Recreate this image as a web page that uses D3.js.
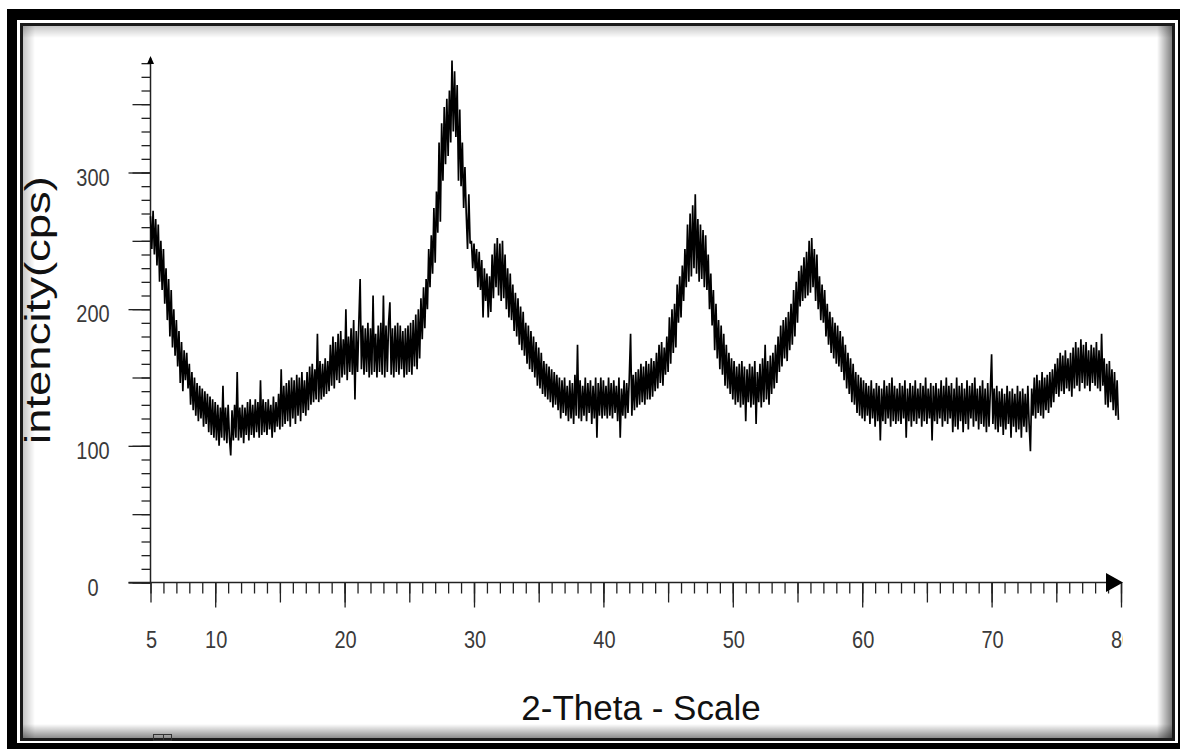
<!DOCTYPE html>
<html>
<head>
<meta charset="utf-8">
<script src="https://cdn.jsdelivr.net/npm/d3@7"></script>
<style>
  body { margin: 0; background: #fff; }
  svg { display: block; }
  .lbl { font-family: "Liberation Sans", Arial, sans-serif; fill: #3a3a3a; }
  .ttl { font-family: "Liberation Sans", Arial, sans-serif; fill: #111; }
</style>
</head>
<body>
<div id="chart"></div>
<script>
// scan settings (2-theta, degrees)
var thetaStart = 5, thetaStep = 0.1;

// intensity (cps), one value per step
var counts = [
  268,244,272,240,266, 232,262,220,250,214, 244,204,230,192,222, 180,214,172,200,166,
  192,158,184,146,176, 140,170,148,168,142, 160,130,154,126,150, 122,146,118,144,120,
  142,114,140,116,138, 110,136,108,134,106, 132,104,130,100,128, 106,144,104,128,102,
  130,106,93,126,104, 130,106,154,104,128, 106,130,102,128,108, 132,104,134,108,130,
  106,134,110,132,106, 148,108,134,110,132, 108,134,112,130,106, 136,110,132,114,138,
  112,156,114,144,116, 146,118,148,114,150, 120,148,116,152,122, 150,118,154,124,148,
  122,154,126,158,130, 160,132,156,134,182, 132,162,134,160,136, 164,138,162,140,174,
  144,180,142,176,148, 182,146,184,150,178, 152,200,148,180,154, 186,152,192,134,184,
  154,190,222,156,188, 152,186,154,190,150, 186,152,210,154,182, 150,188,154,190,152,
  210,150,188,154,190, 205,152,186,150,188, 154,190,152,188,156, 184,150,186,152,188,
  154,190,152,192,158, 196,156,200,164,208, 178,216,186,222,200, 244,216,254,226,274,
  234,286,256,322,264, 336,294,348,306,354, 312,360,322,382,330, 374,326,364,294,346,
  290,322,274,304,270, 244,284,248,250,230, 248,228,244,216,242, 214,236,194,230,206,
  226,194,224,198,240, 208,248,216,252,210, 248,206,250,208,240, 200,230,194,226,192,
  218,184,212,180,208, 174,202,170,198,166, 190,160,188,156,184, 154,180,150,176,144,
  172,142,168,138,162, 136,160,134,158,132, 156,128,154,130,152, 126,150,120,148,124,
  150,122,144,118,148, 120,146,116,152,122, 174,120,148,118,144, 122,150,118,146,124,
  148,116,144,120,150, 106,146,122,150,120, 148,122,144,120,150, 122,146,120,148,124,
  144,118,150,106,142, 122,148,120,146,124, 150,182,122,152,126, 154,128,156,130,160,
  132,158,130,162,134, 160,134,164,136,162, 140,168,142,174,146, 176,144,172,152,180,
  154,194,160,200,168, 204,172,218,190,224, 194,232,206,244,216, 262,220,270,224,276,
  230,284,226,266,220, 262,222,258,216,254, 214,240,200,226,188, 214,170,204,164,192,
  156,188,152,182,144, 174,142,168,138,164, 134,162,130,158,132, 160,128,162,130,158,
  118,156,132,160,128, 158,130,162,116,154, 132,160,128,164,132, 174,134,162,130,166,
  138,168,142,174,146, 180,154,188,158,192, 164,194,162,198,170, 204,174,214,180,220,
  190,228,202,232,206, 238,208,242,210,250, 212,252,216,244,206, 240,200,224,192,218,
  190,214,180,204,174, 198,168,194,164,190, 160,188,158,184,154, 180,148,174,142,168,
  138,164,132,160,130, 154,124,152,122,150, 120,148,118,146,122, 144,116,148,120,142,
  114,146,118,144,104, 142,118,148,116,144, 120,146,114,150,118, 144,116,142,118,146,
  116,144,120,148,106, 142,118,146,114,144, 118,148,116,142,120, 146,114,144,118,150,
  116,142,120,146,104, 144,118,146,116,142, 120,148,114,144,118, 150,116,144,120,146,
  110,142,114,150,112, 144,118,146,110,142, 116,148,112,144,120, 146,114,150,118,142,
  112,144,116,148,114, 142,110,146,114,140, 167,116,142,112,144, 110,140,114,142,108,
  138,112,144,116,140, 106,142,114,138,110, 144,112,140,106,142, 114,138,110,144,116,
  96,142,122,150,120, 152,124,148,122,154, 120,150,126,152,124, 154,128,156,132,160,
  138,164,136,168,140, 166,138,170,142,164, 140,168,136,172,142, 176,144,172,140,178,
  146,174,142,176,144, 170,140,174,146,172, 144,176,142,170,140, 182,144,164,130,160,
  128,162,132,156,126, 154,122,148,119
];

var xTickLabels = [5, 10, 20, 30, 40, 50, 60, 70, 80];
var yTickLabels = [0, 100, 200, 300];
var xTitle = "2-Theta - Scale";
var yTitle = "intencity(cps)";

var W = 1180, H = 749;
var svg = d3.select("#chart").append("svg")
    .attr("width", W)
    .attr("height", H);
var defs = svg.append("defs");

// frame: thick outer band, thin inner border with soft inner shadow
svg.append("rect").attr("x", 7).attr("y", 9).attr("width", W).attr("height", H).attr("fill", "#000");
svg.append("rect").attr("x", 17).attr("y", 20).attr("width", 1161).attr("height", 723).attr("fill", "#fff");
svg.append("rect").attr("x", 21.5).attr("y", 24.5).attr("width", 1152).attr("height", 715)
    .attr("fill", "#fff").attr("stroke", "#1a1a1a").attr("stroke-width", 3);

function shade(id, x1, y1, x2, y2, op) {
  var g = defs.append("linearGradient").attr("id", id)
      .attr("x1", x1).attr("y1", y1).attr("x2", x2).attr("y2", y2);
  g.append("stop").attr("offset", "0%").attr("stop-color", "#000").attr("stop-opacity", op);
  g.append("stop").attr("offset", "100%").attr("stop-color", "#000").attr("stop-opacity", 0);
}
shade("shT", 0, 0, 0, 1, 0.22);
shade("shB", 0, 1, 0, 0, 0.45);
shade("shL", 0, 0, 1, 0, 0.22);
shade("shR", 1, 0, 0, 0, 0.5);
svg.append("rect").attr("x", 23).attr("y", 26).attr("width", 1149).attr("height", 12).attr("fill", "url(#shT)");
svg.append("rect").attr("x", 23).attr("y", 724).attr("width", 1149).attr("height", 14).attr("fill", "url(#shB)");
svg.append("rect").attr("x", 23).attr("y", 26).attr("width", 12).attr("height", 712).attr("fill", "url(#shL)");
svg.append("rect").attr("x", 1157).attr("y", 26).attr("width", 15).attr("height", 712).attr("fill", "url(#shR)");

// little stray glyph at the bottom edge
svg.append("rect").attr("x", 153.5).attr("y", 734.5).attr("width", 18).attr("height", 6)
    .attr("fill", "none").attr("stroke", "#333").attr("stroke-width", 1);
svg.append("line").attr("x1", 163.5).attr("x2", 163.5).attr("y1", 734.5).attr("y2", 740)
    .attr("stroke", "#333").attr("stroke-width", 1);

// scales
var x = d3.scaleLinear().domain([5, 80]).range([150.5, 1121]);
var y = d3.scaleLinear().domain([0, 300]).range([582.5, 172.5]);

// y axis: three tick lengths
function yAxis(step, size) {
  var g = svg.append("g").attr("transform", "translate(" + x(5) + ",0)")
      .call(d3.axisLeft(y).tickValues(d3.range(0, 381, step)).tickSize(size).tickFormat(""));
  g.select(".domain").remove();
  g.selectAll("line").attr("stroke", "#222").attr("stroke-width", 1.3);
}
yAxis(10, 9);
yAxis(50, 18);
yAxis(100, 22);
svg.append("line").attr("x1", x(5)).attr("x2", x(5)).attr("y1", 58).attr("y2", y(0))
    .attr("stroke", "#222").attr("stroke-width", 1.5);
svg.append("path")
    .attr("d", "M" + x(5) + ",56 L" + (x(5) - 3.5) + ",64 L" + (x(5) + 3.5) + ",64 Z")
    .attr("fill", "#000");

// x axis: three tick lengths
function xAxis(step, size) {
  var g = svg.append("g").attr("transform", "translate(0," + y(0) + ")")
      .call(d3.axisBottom(x).tickValues(d3.range(5, 80.5, step)).tickSize(size).tickFormat(""));
  g.select(".domain").remove();
  g.selectAll("line").attr("stroke", "#222").attr("stroke-width", 1.3);
}
xAxis(1, 11);
xAxis(5, 20);
var gx = svg.append("g").attr("transform", "translate(0," + y(0) + ")")
    .call(d3.axisBottom(x).tickValues(d3.range(10, 81, 10)).tickSize(25).tickFormat(""));
gx.select(".domain").remove();
gx.selectAll("line").attr("stroke", "#222").attr("stroke-width", 1.3);
svg.append("line").attr("x1", x(5) - 22).attr("x2", 1110).attr("y1", y(0)).attr("y2", y(0))
    .attr("stroke", "#222").attr("stroke-width", 1.5);
svg.append("path")
    .attr("d", "M1106," + (y(0) - 9.5) + " L1123," + y(0) + " L1106," + (y(0) + 9.5) + " Z")
    .attr("fill", "#000");

// tick labels
svg.selectAll("text.ylab").data(yTickLabels).enter().append("text")
    .attr("class", "lbl ylab")
    .attr("text-anchor", "middle")
    .attr("font-size", 20)
    .attr("transform", function(d) { return "translate(93," + (y(d) + 13) + ") scale(1,1.2)"; })
    .text(function(d) { return d; });

defs.append("clipPath").attr("id", "labClip")
  .append("rect").attr("x", 0).attr("y", 600).attr("width", 1123).attr("height", 80);
svg.append("g").attr("clip-path", "url(#labClip)")
  .selectAll("text").data(xTickLabels).enter().append("text")
    .attr("class", "lbl")
    .attr("text-anchor", "middle")
    .attr("font-size", 20)
    .attr("transform", function(d) { return "translate(" + (x(d) + 1) + ",648) scale(1,1.15)"; })
    .text(function(d) { return d; });

// axis titles
svg.append("text").attr("class", "ttl")
    .attr("text-anchor", "middle")
    .attr("font-size", 35)
    .attr("x", 641).attr("y", 720)
    .text(xTitle);
svg.append("text").attr("class", "ttl")
    .attr("text-anchor", "middle")
    .attr("font-size", 35)
    .attr("transform", "translate(50,310) rotate(-90) scale(1.3,1)")
    .text(yTitle);

// the pattern
var line = d3.line()
    .x(function(d, i) { return x(thetaStart + i * thetaStep); })
    .y(function(d) { return y(d); });
svg.append("path")
    .datum(counts)
    .attr("fill", "none")
    .attr("stroke", "#000")
    .attr("stroke-width", 1.7)
    .attr("stroke-linejoin", "bevel")
    .attr("d", line);
</script>
</body>
</html>
